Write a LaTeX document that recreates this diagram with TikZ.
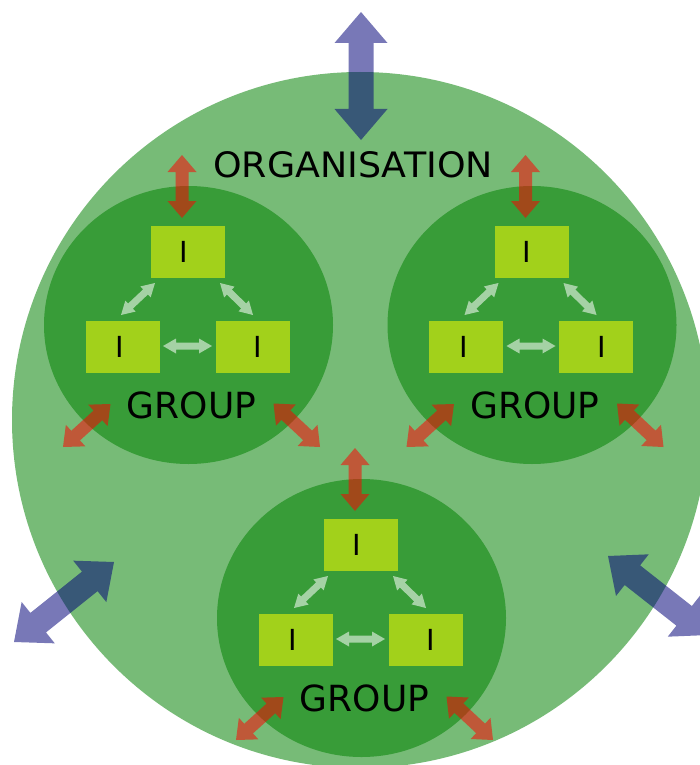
\documentclass[tikz,border=0pt]{standalone}
\usepackage{fontspec}
\setmainfont{DejaVu Sans}
\usetikzlibrary{calc}
\definecolor{orgg}{RGB}{119,187,119}
\definecolor{grpg}{RGB}{56,156,56}
\definecolor{boxg}{RGB}{162,209,27}
\definecolor{navyb}{RGB}{0,0,120}
\tikzset{
  boxst/.style={fill=boxg, minimum width=74pt, minimum height=52pt, inner sep=0pt,
    font=\fontsize{29}{32}\selectfont},
  grouplabel/.style={inner sep=0pt, font=\fontsize{36}{40}\selectfont},
  orglabel/.style={inner sep=0pt, font=\fontsize{35}{40}\selectfont, xscale=1.04},
  lightarr/.style={fill=white, fill opacity=0.55},
  redarr/.style={fill=red, fill opacity=0.53},
  bluearr/.style={fill=navyb, fill opacity=0.53}
}
% double-headed block arrow: #1 end A, #2 end B, #3 head length, #4 half head width, #5 half shaft width, #6 style
\newcommand\dblarr[6]{%
  \path ($(#1)!#3!(#2)$) coordinate (da) ($(#2)!#3!(#1)$) coordinate (db);
  \fill[#6] (#1) -- ($(da)!#4!90:(#2)$) -- ($(da)!#5!90:(#2)$)
     -- ($(db)!#5!-90:(#1)$) -- ($(db)!#4!-90:(#1)$) -- (#2)
     -- ($(db)!#4!90:(#1)$) -- ($(db)!#5!90:(#1)$)
     -- ($(da)!#5!-90:(#2)$) -- ($(da)!#4!-90:(#2)$) -- cycle;}
% one group: #1 prefix, #2 #3 centre
\newcommand\grp[3]{%
  \begin{scope}[shift={(#2,#3)}]
    \fill[grpg] (0,0) ellipse [x radius=144.5pt, y radius=139pt];
    \node[boxst] (#1t) at (-0.5,-73) {I\hspace*{9pt}};
    \node[boxst] (#1l) at (-66,21.5) {I\hspace*{5pt}};
    \node[boxst] (#1r) at (64,21.5) {\hspace*{11pt}I};
    \node[grouplabel] (#1lab) at (3,80) {GROUP};
    \coordinate (#1a1) at (-67.5,-10); \coordinate (#1a2) at (-33.5,-42);
    \coordinate (#1b1) at (31.5,-42);  \coordinate (#1b2) at (64.5,-10);
    \coordinate (#1c1) at (-25.5,21);  \coordinate (#1c2) at (23.5,21);
    \dblarr{#1a1}{#1a2}{13pt}{7.5pt}{3.5pt}{lightarr}
    \dblarr{#1b1}{#1b2}{13pt}{7.5pt}{3.5pt}{lightarr}
    \dblarr{#1c1}{#1c2}{13pt}{7.5pt}{3.5pt}{lightarr}
    \coordinate (#1u1) at (-6.5,-170); \coordinate (#1u2) at (-6.5,-107);
    \coordinate (#1v1) at (-125.5,122); \coordinate (#1v2) at (-78,79);
    \coordinate (#1w1) at (85,78.5);   \coordinate (#1w2) at (131.5,122);
    \dblarr{#1u1}{#1u2}{17pt}{14.5pt}{6.5pt}{redarr}
    \dblarr{#1v1}{#1v2}{17pt}{14.5pt}{6.5pt}{redarr}
    \dblarr{#1w1}{#1w2}{17pt}{14.5pt}{6.5pt}{redarr}
  \end{scope}}
\begin{document}
\begin{tikzpicture}[x=1pt,y=-1pt]
\useasboundingbox (0,0) rectangle (700,765);
\clip (0,0) rectangle (700,765);
\fill[white] (0,0) rectangle (700,765);
\fill[orgg] (360,420) circle [radius=348pt];
\node[orglabel] (org) at (353,165) {ORGANISATION};
\grp{ga}{188.5}{325}
\grp{gb}{532}{325}
\grp{gc}{361.5}{618}
\coordinate (bt1) at (361,12);   \coordinate (bt2) at (361,140);
\coordinate (bl1) at (14,642);   \coordinate (bl2) at (114,562);
\coordinate (br1) at (608,556);  \coordinate (br2) at (708.5,635);
\dblarr{bt1}{bt2}{31pt}{26.5pt}{12.5pt}{bluearr}
\dblarr{bl1}{bl2}{31pt}{26.5pt}{12.5pt}{bluearr}
\dblarr{br1}{br2}{31pt}{26.5pt}{12.5pt}{bluearr}
\end{tikzpicture}
\end{document}
